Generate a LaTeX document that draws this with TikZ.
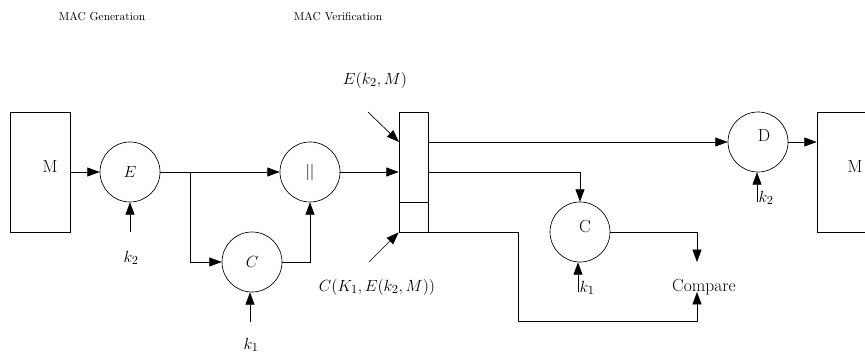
\documentclass[tikz,border=0pt]{standalone}
\usetikzlibrary{arrows.meta,calc}
\begin{document}
\begin{tikzpicture}[x=0.89pt,y=-0.89pt,
  line width=0.6pt,
  arr/.style={-{Triangle[length=11pt,width=8pt]}},
  big/.style={font=\fontsize{15.6}{19}\selectfont},
  op/.style={draw,circle,minimum size=53.4pt,inner sep=0pt,big},
  box/.style={draw,rectangle,inner sep=0pt},
  txt/.style={inner sep=1pt,big},
  title/.style={inner sep=1pt,font=\fontsize{10.2}{12}\selectfont}]
\useasboundingbox (0,0) rectangle (865,354);
% titles
\node[title] (tg) at (102,17) {MAC Generation};
\node[title] (tv) at (338,17) {MAC Verification};
% generation side
\node[box,minimum width=53.4pt,minimum height=106.8pt] (mbox) at (40,172) {};
\node[txt] (ml) at (50,167) {M};
\node[op] (E) at (130,172) {$E$};
\node[op] (par) at (310,172) {$||$};
\node[op] (C1) at (252,262) {$C$};
\coordinate (k2a) at (130,232);
\coordinate (k1a) at (250,322);
\coordinate (br) at (190,172);
\node[txt] (k2l) at (131,258) {$k_2$};
\node[txt] (k1l) at (251,345) {$k_1$};
\draw[arr] (mbox.east) -- (E.west);
\draw[arr] (k2a) -- (E.south);
\draw[arr] (E.east) -- (par.west);
\draw[arr] (br) |- (C1.west);
\draw[arr] (C1.east) -| (par.south);
\draw[arr] (k1a) -- (k1a |- C1.south);
% verification box
\node[box,minimum width=25.8pt,minimum height=106.8pt] (vbox) at (413.5,172) {};
\draw (vbox.west |- 0,202) -- (vbox.east |- 0,202);
\draw[arr] (par.east) -- (vbox.west);
\coordinate (d1s) at (368,112);
\coordinate (d1e) at (399,142);
\coordinate (d2s) at (369,262);
\draw[arr] (d1s) -- (d1e);
\draw[arr] (d2s) -- (vbox.south west);
\node[txt] (lab1) at (375,80) {$E(k_2,M)$};
\node[txt] (lab2) at (377,287) {$C(K_1,E(k_2,M))$};
% verification side
\node[op] (D) at (758,142) {};
\node[txt] (Dl) at (764,136) {D};
\node[box,minimum width=53.4pt,minimum height=106.8pt] (mr) at (847,172) {};
\node[txt] (mrl) at (855,167) {M};
\node[op] (C2) at (580,232) {};
\node[txt] (C2l) at (585,227) {C};
\coordinate (k2b) at (757,202);
\coordinate (k1b) at (578,292);
\node[txt] (k2bl) at (766,198) {$k_2$};
\node[txt] (k1bl) at (587,288) {$k_1$};
\node[txt] (cmp) at (704,287) {Compare};
\coordinate (cmpT) at (697,262);
\coordinate (cmpB) at (697,292);
\coordinate (j1) at (518,321);
\draw[arr] (vbox.east |- D.west) -- (D.west);
\draw[arr] (D.east) -- (D.east -| mr.west);
\draw[arr] (k2b) -- (k2b |- D.south);
\draw[arr] (vbox.east) -| (C2.north);
\draw[arr] (k1b) -- (k1b |- C2.south);
\draw[arr] (C2.east) -| (cmpT);
\draw[arr] (vbox.south east) -- (j1 |- vbox.south east) -- (j1) -| (cmpB);
\end{tikzpicture}
\end{document}
